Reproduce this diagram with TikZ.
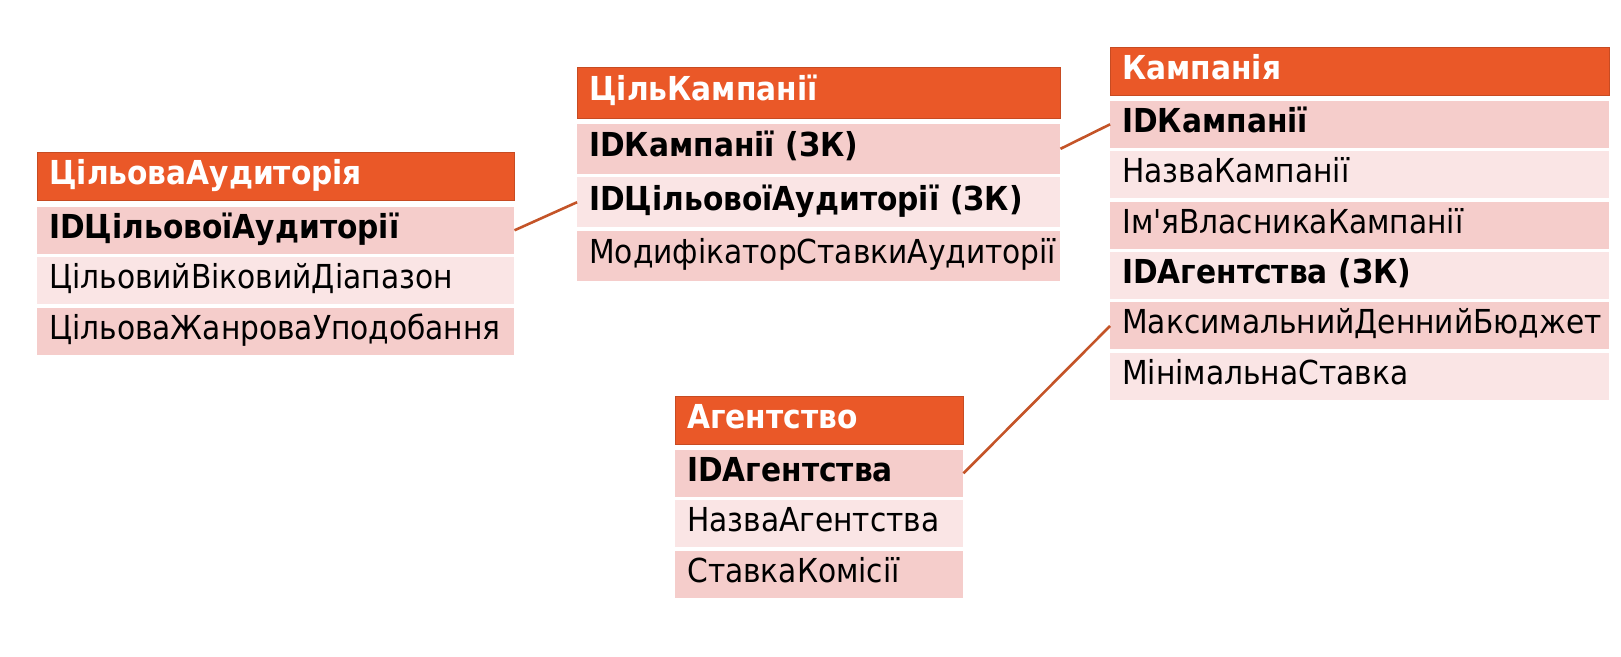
\documentclass[tikz,border=0pt]{standalone}
\usepackage{fontspec}
\setmainfont{DejaVu Sans Condensed}
\usetikzlibrary{positioning}
\definecolor{hdrorange}{RGB}{234,88,40}
\definecolor{rowdark}{RGB}{245,205,203}
\definecolor{rowlight}{RGB}{250,229,229}
\definecolor{linkbrown}{RGB}{196,84,40}
\tikzset{
  cell/.style={anchor=north west, inner xsep=12pt, inner ysep=0pt, align=left,
    text width=#1, minimum height=47pt, text height=24pt, text depth=8pt,
    font=\fontsize{33pt}{37pt}\selectfont},
  hdr/.style={cell=#1, fill=hdrorange, draw=hdrorange!85!black, line width=0.6pt,
    text=white, font=\fontsize{33pt}{37pt}\selectfont\bfseries, minimum height=48pt},
  rowd/.style={cell=#1, fill=rowdark},
  rowl/.style={cell=#1, fill=rowlight},
  key/.style={font=\fontsize{33pt}{37pt}\selectfont\bfseries},
  link/.style={draw=linkbrown, line width=2.6pt}
}
\begin{document}
\begin{tikzpicture}[x=1pt, y=-1pt]
\useasboundingbox (0,0) rectangle (1621,656);
% ЦільоваАудиторія
\node[hdr=453pt] (ta) at (37,152) {ЦільоваАудиторія};
\node[rowd=453pt, key, below=6pt of ta] (ta1) {IDЦільовоїАудиторії};
\node[rowl=453pt, below=3pt of ta1] (ta2) {ЦільовийВіковийДіапазон};
\node[rowd=453pt, below=3pt of ta2] (ta3) {ЦільоваЖанроваУподобання};
% ЦільКампанії
\node[hdr=459pt, minimum height=51pt] (tc) at (577,67) {ЦільКампанії};
\node[rowd=459pt, key, minimum height=50pt, below=5pt of tc] (tc1) {IDКампанії (ЗК)};
\node[rowl=459pt, key, minimum height=50pt, below=3pt of tc1] (tc2) {IDЦільовоїАудиторії (ЗК)};
\node[rowd=459pt, minimum height=50pt, below=3pt of tc2] (tc3) {МодифікаторСтавкиАудиторії};
% Кампанія
\node[hdr=475pt] (km) at (1110,47) {Кампанія};
\node[rowd=475pt, key, below=5pt of km] (km1) {IDКампанії};
\node[rowl=475pt, below=3pt of km1] (km2) {НазваКампанії};
\node[rowd=475pt, below=3pt of km2] (km3) {Ім\textquotesingle яВласникаКампанії};
\node[rowl=475pt, key, below=3pt of km3] (km4) {IDАгентства (ЗК)};
\node[rowd=475pt, below=3pt of km4] (km5) {МаксимальнийДеннийБюджет};
\node[rowl=475pt, below=3pt of km5] (km6) {МінімальнаСтавка};
% Агентство
\node[hdr=264pt] (ag) at (675,396) {Агентство};
\node[rowd=264pt, key, below=5pt of ag] (ag1) {IDАгентства};
\node[rowl=264pt, below=3pt of ag1] (ag2) {НазваАгентства};
\node[rowd=264pt, below=3pt of ag2] (ag3) {СтавкаКомісії};
% Зв'язки
\draw[link] (ta1.east) -- (tc2.west);
\draw[link] (tc1.east) -- (km1.west);
\draw[link] (ag1.east) -- (km5.west);
\end{tikzpicture}
\end{document}
